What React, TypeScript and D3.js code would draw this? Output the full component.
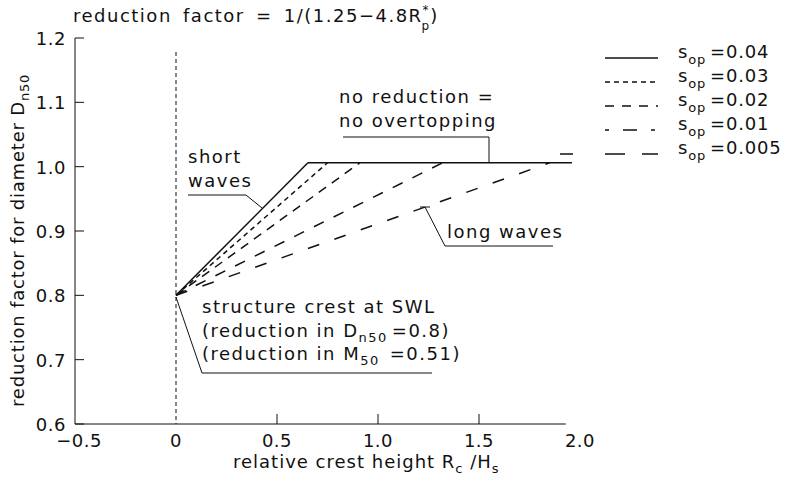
import React from 'react';
import * as d3 from 'd3';

// wave steepness s_op of each line
const steepness = ['0.04', '0.03', '0.02', '0.01', '0.005'];
// Rc/Hs where each line reaches the "no reduction" level
const reachX = [0.653, 0.75, 0.91, 1.32, 1.85];
const crestValue = 0.8; // reduction factor at Rc/Hs = 0
const plateauValue = 1.006;
const plateauEndX = 1.96;

const xTicks = [-0.5, 0, 0.5, 1.0, 1.5, 2.0];
const xTickLabels = ['−0.5', '0', '0.5', '1.0', '1.5', '2.0'];
const yTicks = [0.6, 0.7, 0.8, 0.9, 1.0, 1.1, 1.2];
const yTickLabels = ['0.6', '0.7', '0.8', '0.9', '1.0', '1.1', '1.2'];

const W = 792;
const H = 486;
const FONT = '"DejaVu Sans", sans-serif';
const INK = '#111';

const App = () => {
  const x = d3.scaleLinear().domain([-0.5, 2.0]).range([75, 580]);
  const y = d3.scaleLinear().domain([0.6, 1.2]).range([424, 38]);

  const dash = ['', '5,4', '9,7', '11,11', '12,16'];
  const legendDash = ['', '5,4', '9,8', '4,14,14,14', '13,32,20,17,16'];

  const line = d3
    .line<[number, number]>()
    .x(d => x(d[0]))
    .y(d => y(d[1]));

  const series = reachX.map(r => [
    [0, crestValue],
    [r, plateauValue]
  ] as [number, number][]);

  const txt = { fontFamily: FONT, fontSize: 18, fill: INK, letterSpacing: 1.5 } as const;
  const sub = 13;

  return (
    <svg width={W} height={H} style={{ position: 'absolute', left: 0, top: 0, background: '#fff' }}>
      {/* title */}
      <text x={73} y={22} {...txt} wordSpacing={4}>
        reduction factor = 1/(1.25−4.8R
        <tspan fontSize={12} letterSpacing={0} dy={-8}>*</tspan>
        <tspan fontSize={12} letterSpacing={0} dx={-7} dy={16}>p</tspan>
        <tspan dx={1} dy={-8}>)</tspan>
      </text>

      {/* y axis */}
      <line x1={x(-0.5)} x2={x(-0.5)} y1={y(0.6)} y2={y(1.2)} stroke={INK} strokeWidth={1} />
      {yTicks.map((t, i) => (
        <g key={t}>
          <line x1={x(-0.5)} x2={x(-0.5) + 9} y1={y(t)} y2={y(t)} stroke={INK} strokeWidth={1} />
          <text x={x(-0.5) - 9} y={y(t) + 7} textAnchor="end" {...txt} letterSpacing={0.5}>
            {yTickLabels[i]}
          </text>
        </g>
      ))}

      {/* x axis */}
      <line x1={x(-0.5)} x2={x(1.93)} y1={y(0.6)} y2={y(0.6)} stroke={INK} strokeWidth={1} />
      {xTicks.map((t, i) => (
        <g key={t}>
          {t > 0 && t < 2 && (
            <line x1={x(t)} x2={x(t)} y1={y(0.6)} y2={y(0.6) - 10} stroke={INK} strokeWidth={1} />
          )}
          <text x={x(t) + (i === 0 ? 4 : 0)} y={447} textAnchor="middle" {...txt} letterSpacing={0.5}>
            {xTickLabels[i]}
          </text>
        </g>
      ))}

      {/* SWL line at Rc = 0 */}
      <line x1={x(0)} x2={x(0)} y1={52} y2={y(0.6)} stroke={INK} strokeWidth={1} strokeDasharray="4,3" />

      {/* axis titles */}
      <text transform={`translate(24,${y(0.6) - 17}) rotate(-90)`} {...txt} letterSpacing={0.8}>
        reduction factor for diameter D
        <tspan fontSize={sub} dy={5}>n50</tspan>
      </text>
      <text x={233} y={468} {...txt} letterSpacing={1}>
        relative crest height R
        <tspan fontSize={sub} dy={5}>c</tspan>
        <tspan dy={-5}> /H</tspan>
        <tspan fontSize={sub} dy={5}>s</tspan>
      </text>

      {/* plateau */}
      <line
        x1={x(reachX[0])}
        x2={x(plateauEndX)}
        y1={y(plateauValue)}
        y2={y(plateauValue)}
        stroke={INK}
        strokeWidth={1.5}
      />
      {series.map((d, i) => (
        <path
          key={steepness[i]}
          d={line(d) || ''}
          fill="none"
          stroke={INK}
          strokeWidth={1.5}
          strokeDasharray={dash[i] || undefined}
        />
      ))}

      {/* legend */}
      {steepness.map((s, i) => {
        const ly = 58 + i * 24;
        return (
          <g key={s}>
            <line
              x1={i === 4 ? 560 : 605}
              x2={658}
              y1={ly}
              y2={ly}
              stroke={INK}
              strokeWidth={1.3}
              strokeDasharray={legendDash[i] || undefined}
            />
            <text x={678} y={ly} {...txt} letterSpacing={0.8}>
              s<tspan fontSize={sub} dy={6}>op</tspan>
              <tspan dy={-6} dx={4}>=0{s.slice(1)}</tspan>
            </text>
          </g>
        );
      })}

      {/* annotations */}
      <g stroke={INK} strokeWidth={1} fill="none">
        <polyline points="188,195 246,195 262,208" />
        <polyline points="343,137 489,137 489,162" />
        <polyline points="553,246 445,246 425,207" />
        <line x1={420} x2={430} y1={207} y2={207} />
        <polyline points="176,297 202,373 432,373" />
      </g>
      <text x={188} y={163} {...txt}>short</text>
      <text x={188} y={187} {...txt}>waves</text>
      <text x={339} y={103} {...txt}>no reduction =</text>
      <text x={339} y={127} {...txt}>no overtopping</text>
      <text x={447} y={238} {...txt}>long waves</text>
      <text x={202} y={313} {...txt}>structure crest at SWL</text>
      <text x={202} y={337} {...txt}>
        (reduction in D<tspan fontSize={sub} dy={5}>n50</tspan>
        <tspan dy={-5} dx={4}>=0.8)</tspan>
      </text>
      <text x={202} y={360} {...txt}>
        (reduction in M<tspan fontSize={sub} dy={5}>50</tspan>
        <tspan dy={-5} dx={10}>=0.51)</tspan>
      </text>
    </svg>
  );
};

export default App;
